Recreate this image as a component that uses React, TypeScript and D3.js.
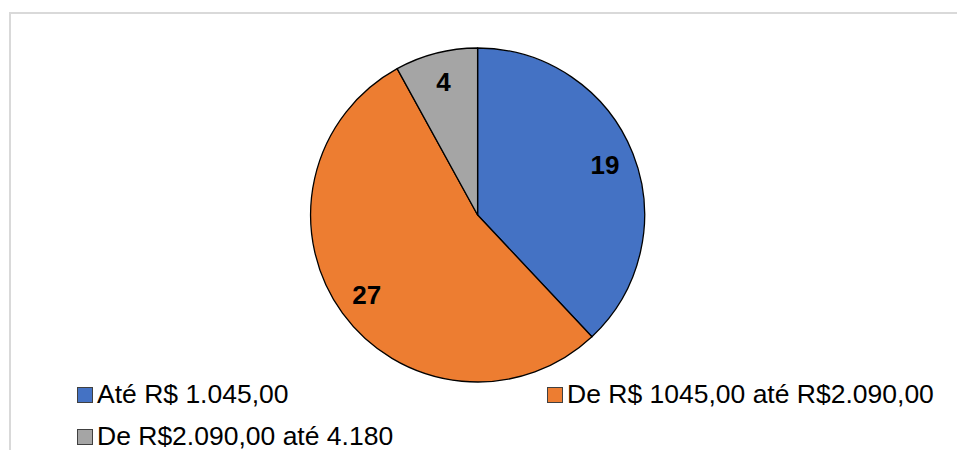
import React from "react";
import * as d3 from "d3";

const categories = ["Até R$ 1.045,00", "De R$ 1045,00 até R$2.090,00", "De R$2.090,00 até 4.180"];
const values = [19, 27, 4];
const colors = ["#4472C4", "#ED7D31", "#A5A5A5"];

const W = 957;
const H = 450;
const cx = 477.6;
const cy = 215;
const R = 167;

export default function App() {
  const pie = d3.pie<number>().sort(null).value((d) => d);
  const arcs = pie(values);
  const arcGen = d3.arc<d3.PieArcDatum<number>>().innerRadius(0).outerRadius(R);
  const labelArc = d3.arc<d3.PieArcDatum<number>>().innerRadius(R * 0.82).outerRadius(R * 0.82);

  const legendPos = [
    { x: 77, y: 387 },
    { x: 547, y: 387 },
    { x: 77, y: 429 },
  ];

  return (
    <svg
      width={W}
      height={H}
      style={{ position: "absolute", left: 0, top: 0, display: "block" }}
      fontFamily="'Liberation Sans', Arial, sans-serif"
    >
      <rect x={0} y={0} width={W} height={H} fill="#ffffff" />
      <rect x={10} y={13} width={960} height={460} fill="none" stroke="#d9d9d9" strokeWidth={2} />
      <g transform={`translate(${cx},${cy})`}>
        {arcs.map((a, i) => (
          <path key={i} d={arcGen(a) || ""} fill={colors[i]} stroke="#000" strokeWidth={1.3} strokeLinejoin="round" />
        ))}
        {arcs.map((a, i) => {
          const [x, y] = labelArc.centroid(a);
          return (
            <text
              key={"l" + i}
              x={x}
              y={y}
              textAnchor="middle"
              dominantBaseline="central"
              fontWeight="bold"
              fontSize={26}
              fill="#000"
            >
              {values[i]}
            </text>
          );
        })}
      </g>
      {categories.map((c, i) => (
        <g key={"lg" + i}>
          <rect
            x={legendPos[i].x + 0.5}
            y={legendPos[i].y + 0.5}
            width={15}
            height={15}
            fill={colors[i]}
            stroke="#404040"
            strokeWidth={1}
          />
          <text x={legendPos[i].x + 20} y={legendPos[i].y + 16} fontSize={26.5} fill="#000">
            {c}
          </text>
        </g>
      ))}
    </svg>
  );
}
